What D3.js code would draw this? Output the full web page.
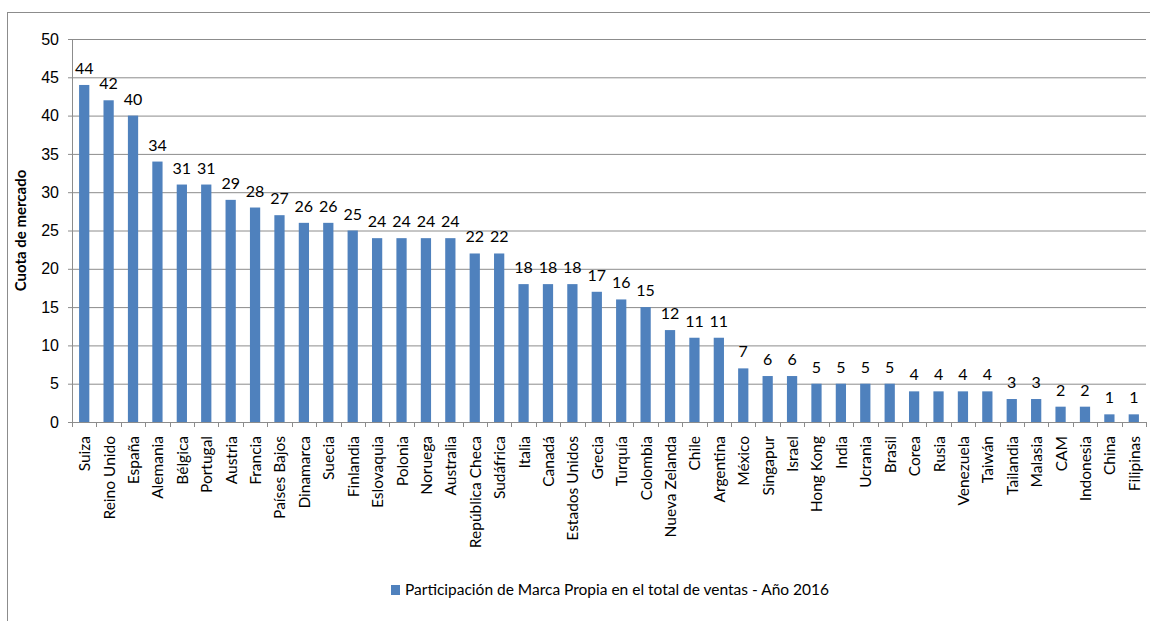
<!DOCTYPE html>
<html>
<head>
<meta charset="utf-8">
<style>
    body { margin:0; background:#fff; }
    svg { font-family: Lato, "Liberation Sans", sans-serif; }
    .grid line { stroke:#8c8c8c; stroke-width:1; }
    .grid path { display:none; }
</style>
<script src="https://d3js.org/d3.v7.min.js"></script>
</head>
<body>
<svg id="chart" width="1150" height="621"></svg>
<script>
    // data
    var countries = ["Suiza","Reino Unido","España","Alemania","Bélgica","Portugal","Austria","Francia",
        "Países Bajos","Dinamarca","Suecia","Finlandia","Eslovaquia","Polonia","Noruega","Australia",
        "República Checa","Sudáfrica","Italia","Canadá","Estados Unidos","Grecia","Turquía","Colombia",
        "Nueva Zelanda","Chile","Argentina","México","Singapur","Israel","Hong Kong","India","Ucrania",
        "Brasil","Corea","Rusia","Venezuela","Taiwán","Tailandia","Malasia","CAM","Indonesia","China","Filipinas"];
    var shares = [44,42,40,34,31,31,29,28,27,26,26,25,24,24,24,24,22,22,18,18,18,17,16,15,12,11,11,7,6,6,
        5,5,5,5,4,4,4,4,3,3,2,2,1,1];
    var yTicks = [0,5,10,15,20,25,30,35,40,45,50];
    var seriesName = "Participación de Marca Propia en el total de ventas - Año 2016";

    var svg = d3.select("#chart");
    var margin = {left:72, right:4, top:39, bottom:199};
    var width = 1150 - margin.left - margin.right;
    var height = 621 - margin.top - margin.bottom;

    // outer frame
    svg.append("rect")
        .attr("x",7.5).attr("y",12.5)
        .attr("width",1160).attr("height",640)
        .attr("fill","none").attr("stroke","#8c8c8c");

    var g = svg.append("g").attr("transform","translate("+margin.left+","+margin.top+")");

    var xScale = d3.scaleBand()
        .domain(countries)
        .range([0,width])
        .paddingInner(0.58)
        .paddingOuter(0.29);
    var yScale = d3.scaleLinear()
        .domain([0,50])
        .range([height,0]);

    // gridlines + y ticks
    g.append("g")
        .attr("class","grid")
        .call(d3.axisLeft(yScale).tickValues(yTicks).tickSize(-width-4).tickSizeOuter(0).tickPadding(13).tickFormat(d3.format("d")))
        .call(function(a){
            a.selectAll("line").attr("x1",-4).attr("x2",width);
            a.selectAll("text").attr("fill","#000").style("font-size","16px");
        });

    // y axis line
    g.append("line").attr("x1",0.5).attr("x2",0.5).attr("y1",0).attr("y2",height).attr("stroke","#8c8c8c");

    // x axis with category separators
    var xAxis = g.append("g").attr("transform","translate(0,"+height+")");
    xAxis.append("line").attr("x1",0).attr("x2",width).attr("y1",0.5).attr("y2",0.5).attr("stroke","#8c8c8c");
    xAxis.selectAll("line.sep")
        .data(d3.range(countries.length+1))
        .enter().append("line")
        .attr("class","sep")
        .attr("x1",function(i){ return Math.round(i*width/countries.length)+0.5; })
        .attr("x2",function(i){ return Math.round(i*width/countries.length)+0.5; })
        .attr("y1",0).attr("y2",5)
        .attr("stroke","#8c8c8c");
    xAxis.selectAll("text")
        .data(countries)
        .enter().append("text")
        .attr("transform",function(d){ return "translate("+(xScale(d)+xScale.bandwidth()/2+6)+",14) rotate(-90)"; })
        .attr("text-anchor","end")
        .style("font-size","15.5px")
        .attr("fill","#000")
        .text(function(d){ return d; });

    // bars
    g.selectAll("rect.bar")
        .data(shares)
        .enter().append("rect")
        .attr("class","bar")
        .attr("x",function(d,i){ return xScale(countries[i]); })
        .attr("y",function(d){ return yScale(d); })
        .attr("width",xScale.bandwidth())
        .attr("height",function(d){ return height - yScale(d); })
        .attr("fill","#4f81bd");

    // value labels
    g.selectAll("text.val")
        .data(shares)
        .enter().append("text")
        .attr("class","val")
        .attr("x",function(d,i){ return xScale(countries[i]) + xScale.bandwidth()/2; })
        .attr("y",function(d){ return yScale(d) - 11; })
        .attr("text-anchor","middle")
        .style("font-size","16px")
        .attr("fill","#000")
        .text(function(d){ return d; });

    // y axis title
    svg.append("text")
        .attr("transform","translate(26,"+(margin.top+height/2)+") rotate(-90)")
        .attr("text-anchor","middle")
        .style("font-size","15px")
        .style("font-weight","bold")
        .text("Cuota de mercado");

    // legend
    var legend = svg.append("g").attr("transform","translate(391,585)");
    legend.append("rect").attr("width",9).attr("height",10).attr("fill","#4f81bd");
    legend.append("text").attr("x",14).attr("y",10).style("font-size","15.5px").text(seriesName);
</script>
</body>
</html>
